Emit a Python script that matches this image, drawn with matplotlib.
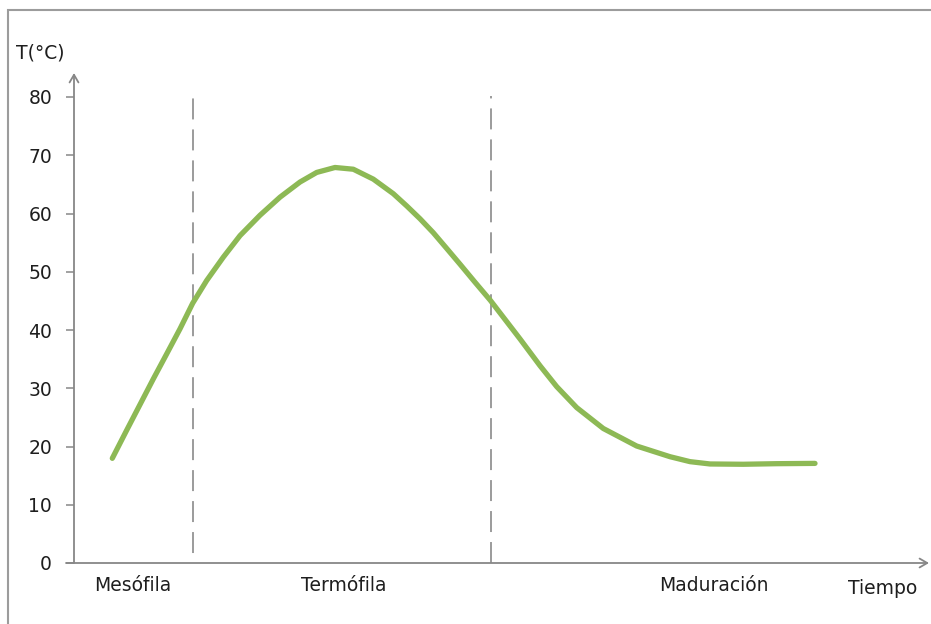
import matplotlib
matplotlib.use("Agg")
import matplotlib.pyplot as plt
from matplotlib.patches import Rectangle

plt.rcParams['font.family'] = ['DejaVu Sans']
plt.rcParams['lines.scale_dashes'] = False

# ---- data ----
time = [3.83, 5.27, 6.6, 7.93, 9.27, 10.6, 11.87, 13.27, 14.93, 16.6, 18.6, 20.6,
        22.6, 24.27, 26.1, 27.93, 29.93, 31.93, 33.27, 34.6, 35.93, 37.27, 38.6,
        40.1, 41.63, 44.6, 46.6, 48.27, 50.27, 52.93, 56.27, 59.6, 61.6, 63.6,
        66.93, 70.27, 74.1]
temp = [17.97, 22.8, 27.2, 31.6, 35.9, 40.2, 44.6, 48.5, 52.5, 56.2, 59.7,
        62.8, 65.4, 67.05, 67.9, 67.6, 65.9, 63.4, 61.3, 59.1, 56.7, 54.0,
        51.3, 48.2, 45.1, 38.47, 33.87, 30.28, 26.68, 23.09, 20.08, 18.25, 17.4,
        17.0, 16.95, 17.05, 17.1]
phase_bounds = [11.9, 41.65]
phase_top = 80.2
categories = ["Mesófila", "Termófila", "Maduración"]
cat_pos = [5.9, 27.0, 64.0]
yticks = [0, 10, 20, 30, 40, 50, 60, 70, 80]
x_title = "Tiempo"
y_title = "T(°C)"

W, H = 931, 624
fig = plt.figure(figsize=(W / 100, H / 100), dpi=100)
fig.patch.set_facecolor('white')

ax_left, ax_right, ax_bottom, ax_top = 74, 929, 563, 73
ax = fig.add_axes([ax_left / W, 1 - ax_bottom / H,
                   (ax_right - ax_left) / W, (ax_bottom - ax_top) / H])
xmax = (ax_right - ax_left) / 10.0
ymax = (ax_bottom - ax_top) / 58.25 * 10
ax.set_xlim(0, xmax)
ax.set_ylim(0, ymax)
for s in ax.spines.values():
    s.set_visible(False)

axis_col = '#878787'
txt_col = '#1e1e1e'

# axes with open arrowheads
arrow_kw = dict(arrowstyle='->,head_length=0.55,head_width=0.32', color=axis_col,
                lw=1.3, shrinkA=0, shrinkB=0, mutation_scale=10)
ax.annotate('', xy=(xmax, 0), xytext=(-0.8, 0), xycoords='data',
            arrowprops=arrow_kw, annotation_clip=False)
ax.annotate('', xy=(0, ymax), xytext=(0, 0), xycoords='data',
            arrowprops=arrow_kw, annotation_clip=False)

# y ticks
ax.set_yticks(yticks)
ax.set_yticklabels([str(v) for v in yticks])
ax.tick_params(axis='y', direction='out', length=5.8, width=1.1, color=axis_col,
               pad=10, labelsize=13.5, labelcolor=txt_col)

# category labels as x ticks
ax.set_xticks(cat_pos)
ax.set_xticklabels(categories)
ax.tick_params(axis='x', length=0, pad=9.5, labelsize=13.5, labelcolor=txt_col)

# phase boundaries (dashed)
offsets = [21 * 0.72, 0]
for xb, off in zip(phase_bounds, offsets):
    ax.plot([xb, xb], [0, phase_top], color='#8a8a8a', lw=1.2,
            linestyle=(off, (15.1, 7.2)), clip_on=False)

# temperature curve
ax.plot(time, temp, color='#8DB955', lw=3.8, solid_capstyle='round',
        solid_joinstyle='round', clip_on=False, zorder=3)

# titles
ax.text(77.4, -4.3, x_title, ha='left', va='center', fontsize=13.5, color=txt_col)
fig.text(16 / W, 1 - 53 / H, y_title, ha='left', va='center', fontsize=13.5,
         color=txt_col)

# outer frame
fig.patches.append(Rectangle((8.3 / W, -0.2), 1.5, 1.2 - 10.3 / H,
                             transform=fig.transFigure, fill=False,
                             edgecolor='#9c9c9c', lw=1.5, clip_on=False))

fig.savefig('out.png', dpi=100, facecolor='white')
